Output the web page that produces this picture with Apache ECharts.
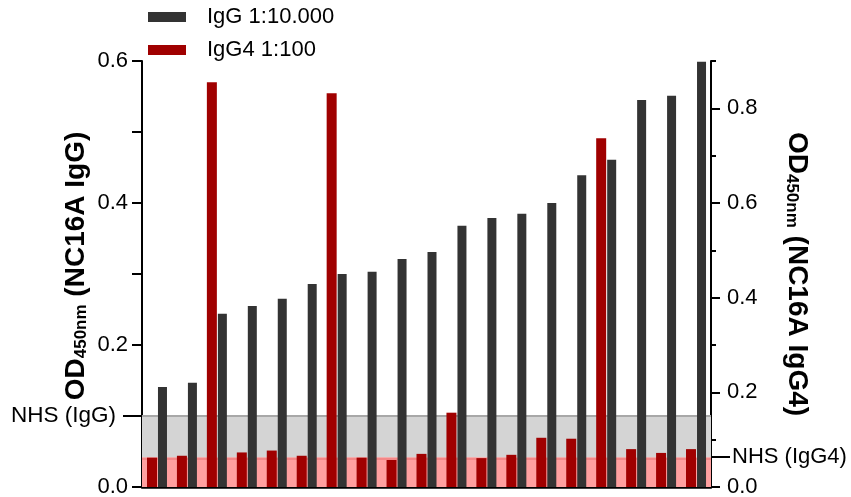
<!DOCTYPE html>
<html>
<head>
<meta charset="utf-8">
<script src="https://cdn.jsdelivr.net/npm/echarts@6/dist/echarts.min.js"></script>
<style>
  html, body { margin: 0; padding: 0; background: #fff; }
  #chart { width: 851px; height: 497px; }
</style>
</head>
<body>
<div id="chart"></div>
<script>
// Patient samples, sorted by NC16A IgG reactivity
const samples = ['P1','P2','P3','P4','P5','P6','P7','P8','P9','P10',
                 'P11','P12','P13','P14','P15','P16','P17','P18','P19'];

// OD450nm, IgG at 1:10.000 (left axis)
const igG = [0.141, 0.147, 0.244, 0.255, 0.265, 0.286, 0.300, 0.303, 0.321, 0.331,
             0.368, 0.379, 0.385, 0.400, 0.439, 0.461, 0.545, 0.551, 0.599];

// OD450nm, IgG4 at 1:100 (right axis)
const igG4 = [0.062, 0.066, 0.855, 0.073, 0.077, 0.066, 0.832, 0.062, 0.057, 0.070,
              0.157, 0.061, 0.068, 0.104, 0.102, 0.737, 0.080, 0.072, 0.080];

// Normal human serum cut-offs
const nhsIgG = 0.1;
const nhsIgG4 = 0.063;

// Axis ticks
const leftTicks = [0, 0.2, 0.3, 0.4, 0.5, 0.6];
const leftLabels = [0, 0.2, 0.4, 0.6];
const rightMajor = [0, 0.2, 0.4, 0.6, 0.8];
const rightMinor = [0.1, 0.3, 0.5, 0.7, 0.9];

const FONT = 'Liberation Sans';
const black = '#000';

const titleRich = {
  od: { fontSize: 28, fontWeight: 'bold', fontFamily: FONT, color: black },
  sub: { fontSize: 17, fontWeight: 'bold', fontFamily: FONT, color: black, verticalAlign: 'bottom' }
};

const chart = echarts.init(document.getElementById('chart'), null, { renderer: 'canvas' });

chart.setOption({
  animation: false,
  backgroundColor: '#fff',
  textStyle: { fontFamily: FONT },
  legend: {
    data: ['IgG 1:10.000', 'IgG4 1:100'],
    orient: 'vertical',
    left: 148,
    top: 6,
    padding: 0,
    itemGap: 11,
    itemWidth: 38,
    itemHeight: 10,
    icon: 'rect',
    selectedMode: false,
    textStyle: { fontSize: 22, color: black, fontFamily: FONT, padding: [0, 0, 0, 16] }
  },
  grid: { left: 142, right: 140, top: 61, bottom: 10, outerBoundsMode: 'none' },
  xAxis: {
    type: 'category',
    data: samples,
    axisLine: { show: true, lineStyle: { color: black, width: 2.5 } },
    axisTick: { show: false },
    axisLabel: { show: false },
    splitLine: { show: false }
  },
  yAxis: [
    {
      type: 'value', position: 'left', min: 0, max: 0.6, interval: 0.1,
      axisLine: { show: true, lineStyle: { color: black, width: 2 } },
      axisTick: { show: true, length: 10, lineStyle: { color: black, width: 2 }, customValues: leftTicks },
      axisLabel: { customValues: leftLabels, formatter: v => v.toFixed(1), margin: 14, fontSize: 22, color: black, fontFamily: FONT },
      splitLine: { show: false },
      name: '{od|OD}{sub|450nm}{od| (NC16A IgG)}',
      nameLocation: 'middle',
      nameRotate: 90,
      nameGap: 52,
      nameMoveOverlap: false,
      nameTextStyle: { rich: titleRich, padding: [0, 0, 0, 16] }
    },
    {
      type: 'value', position: 'left', min: 0, max: 0.6,
      axisLine: { show: false },
      axisTick: { show: true, length: 19, lineStyle: { color: black, width: 2 }, customValues: [nhsIgG] },
      axisLabel: { customValues: [nhsIgG], formatter: () => 'NHS (IgG)', margin: 26, fontSize: 22.5, color: black, fontFamily: FONT },
      splitLine: { show: false }
    },
    {
      type: 'value', position: 'right', min: 0, max: 0.9, interval: 0.1,
      axisLine: { show: true, lineStyle: { color: black, width: 2 } },
      axisTick: { show: true, length: 9, lineStyle: { color: black, width: 2 }, customValues: rightMajor },
      axisLabel: { customValues: rightMajor, formatter: v => v.toFixed(1), margin: 16, fontSize: 22, color: black, fontFamily: FONT },
      splitLine: { show: false },
      name: '{od|OD}{sub|450nm}{od| (NC16A IgG4)}',
      nameLocation: 'middle',
      nameRotate: -90,
      nameGap: 72,
      nameMoveOverlap: false,
      nameTextStyle: { rich: titleRich }
    },
    {
      type: 'value', position: 'right', min: 0, max: 0.9,
      axisLine: { show: false },
      axisTick: { show: true, length: 5, lineStyle: { color: black, width: 2 }, customValues: rightMinor },
      axisLabel: { show: false },
      splitLine: { show: false }
    },
    {
      type: 'value', position: 'right', min: 0, max: 0.9,
      axisLine: { show: false },
      axisTick: { show: true, length: 19, lineStyle: { color: black, width: 2 }, customValues: [nhsIgG4] },
      axisLabel: { customValues: [nhsIgG4], formatter: () => 'NHS (IgG4)', margin: 21, fontSize: 22, color: black, fontFamily: FONT },
      splitLine: { show: false }
    }
  ],
  series: [
    {
      name: 'IgG4 1:100',
      type: 'bar',
      yAxisIndex: 2,
      data: igG4,
      barWidth: 10,
      barGap: '10%',
      itemStyle: { color: '#a00000' },
      z: 3,
      markArea: {
        silent: true,
        z: 1.2,
        itemStyle: { color: '#ffa0a0' },
        data: [[{ yAxis: 0 }, { yAxis: nhsIgG4 }]]
      },
      markLine: {
        silent: true,
        z: 1.3,
        symbol: 'none',
        label: { show: false },
        lineStyle: { type: 'solid', color: '#f08080', width: 1.5 },
        data: [{ yAxis: nhsIgG4 }]
      }
    },
    {
      name: 'IgG 1:10.000',
      type: 'bar',
      yAxisIndex: 0,
      data: igG,
      barWidth: 9,
      barGap: '10%',
      itemStyle: { color: '#333333' },
      z: 3,
      markArea: {
        silent: true,
        z: 1,
        itemStyle: { color: '#d4d4d4' },
        data: [[{ yAxis: 0 }, { yAxis: nhsIgG }]]
      },
      markLine: {
        silent: true,
        z: 1.1,
        symbol: 'none',
        label: { show: false },
        lineStyle: { type: 'solid', color: '#a8a8a8', width: 2 },
        data: [{ yAxis: nhsIgG }]
      }
    }
  ]
});
</script>
</body>
</html>
